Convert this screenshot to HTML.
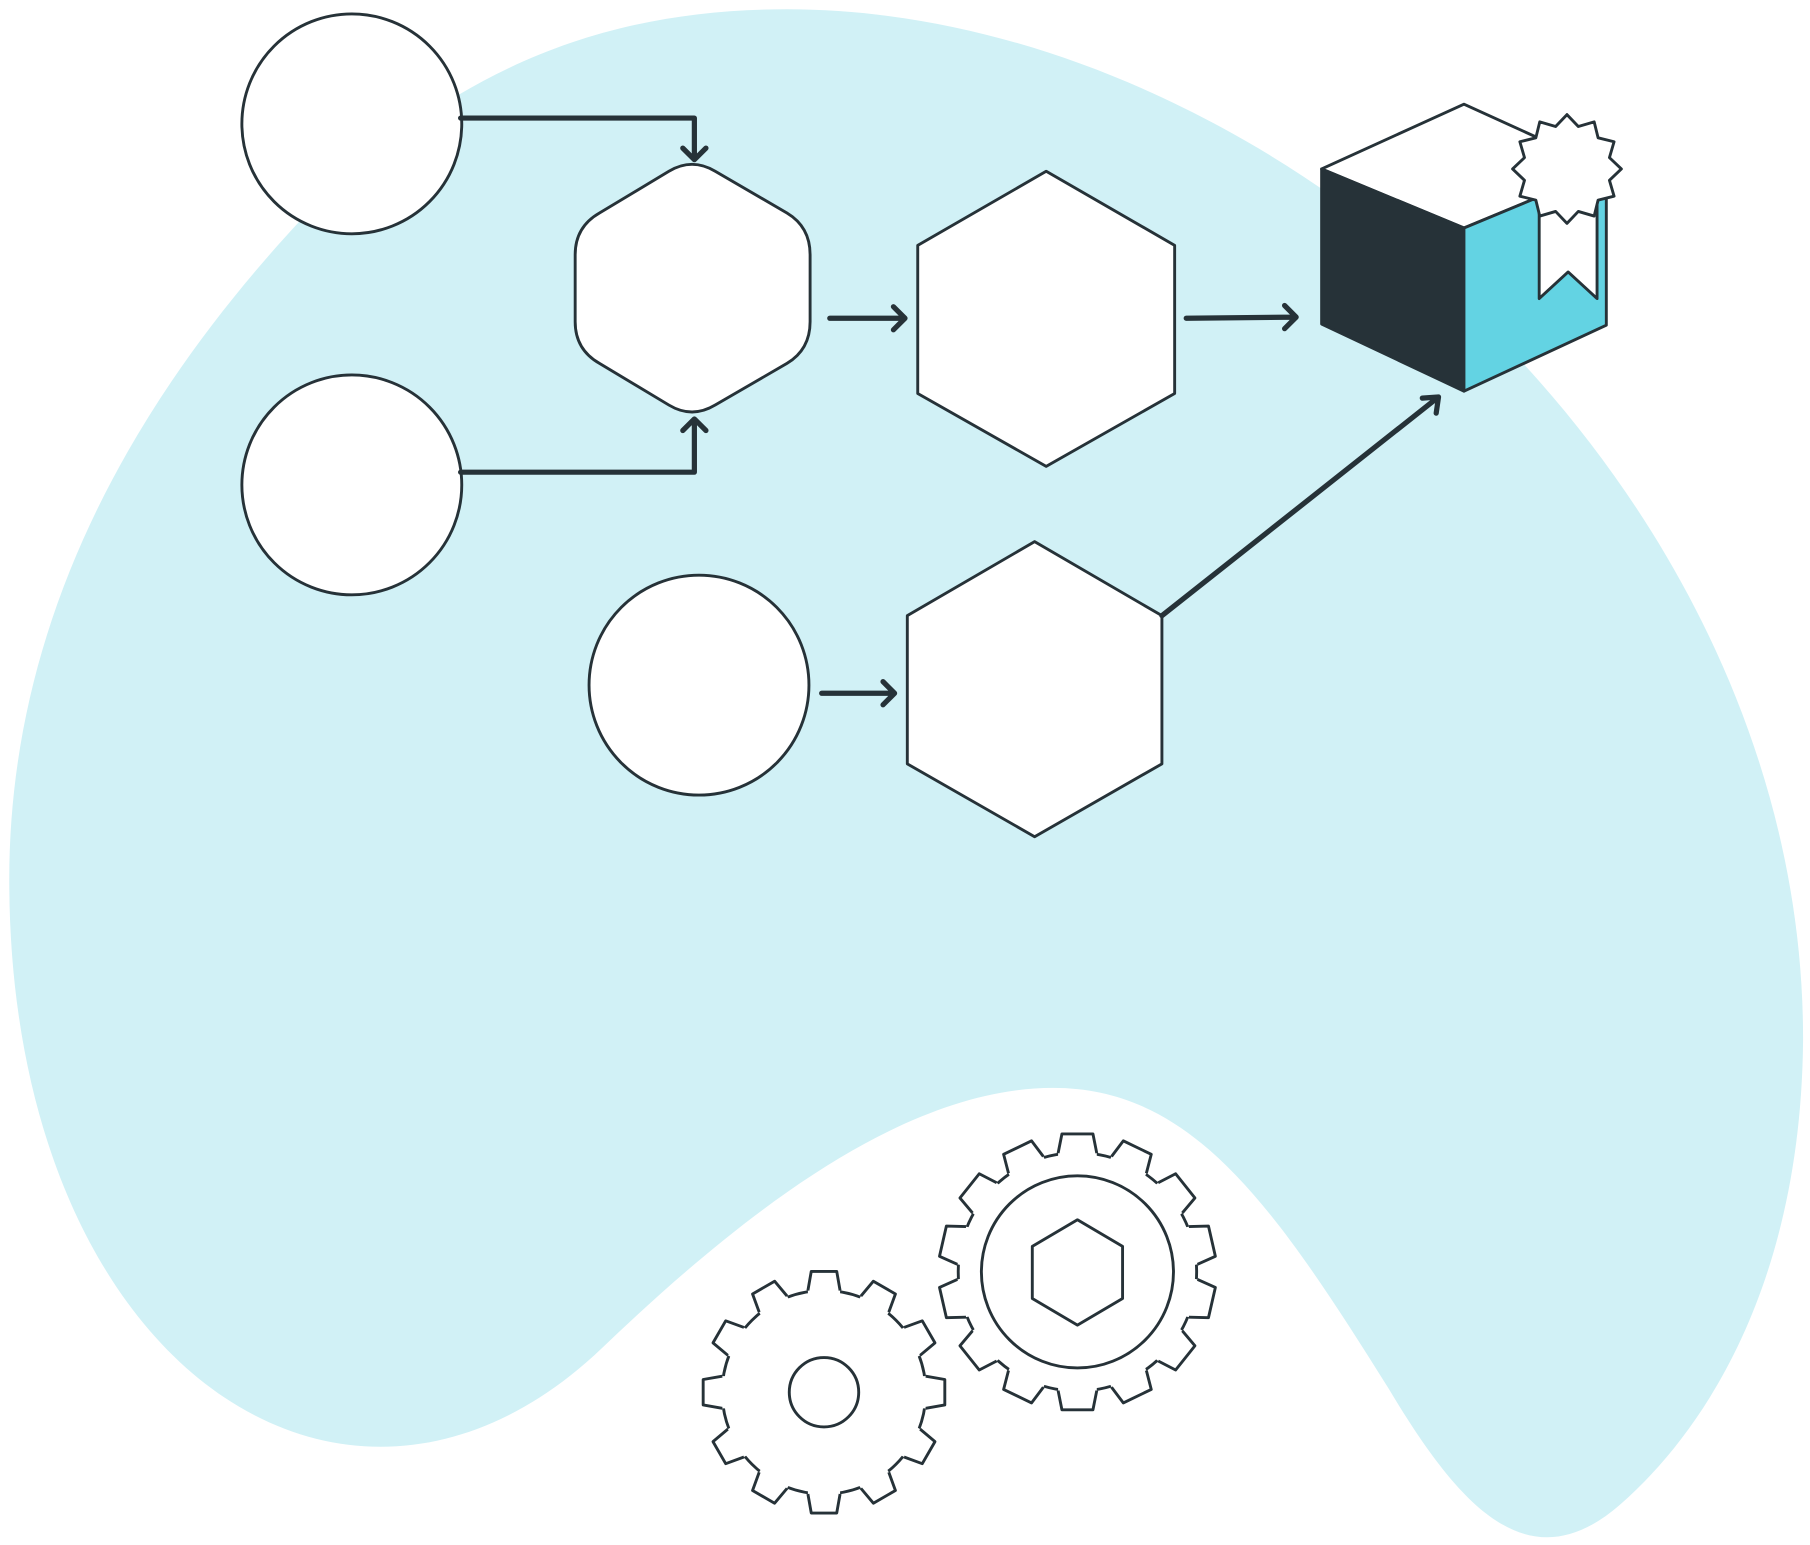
<!DOCTYPE html>
<html><head><meta charset="utf-8"><style>html,body{margin:0;padding:0;background:#fff}svg{display:block}</style></head>
<body>
<svg width="1810" height="1545" viewBox="0 0 1564 1335" preserveAspectRatio="none" xmlns="http://www.w3.org/2000/svg" xmlns:xlink="http://www.w3.org/1999/xlink">
<defs>
<g id="t1"><polygon points="-13.9,-87.9 -11,-104.4 11,-104.4 13.9,-87.9 13.9,-84 -13.9,-84" fill="#fff" stroke="none"/><polyline points="-13.9,-87.9 -11,-104.4 11,-104.4 13.9,-87.9" fill="none"/></g>
<g id="t2"><polygon points="-16.7,-102.6 -13.4,-119.2 13.4,-119.2 16.7,-102.6 16.7,-99 -16.7,-99" fill="#fff" stroke="none"/><polyline points="-16.7,-102.6 -13.4,-119.2 13.4,-119.2 16.7,-102.6" fill="none"/></g>
</defs>
<path d="M680 8 C1100 8 1560 420 1558 900 C1556 1100 1480 1230 1400 1300 C1320 1370 1260 1300 1200 1200 C1100 1040 1030 940 910 940 C780 940 640 1050 520 1165 C300 1375 8 1180 8 760 C8 520 130 330 260 190 C390 60 520 8 680 8 Z" fill="#d1f1f6"/>
<g fill="#fff" stroke="#263238" stroke-width="2.5" stroke-linejoin="round">
<circle cx="304" cy="107" r="95"/>
<circle cx="304" cy="419" r="95"/>
<circle cx="604" cy="592" r="95"/>
<path d="M578 148 Q598 136 618 148 L680 184 Q700 196 700 220 L700 278 Q700 302 680 314 L618 350 Q598 362 578 350 L518 314 Q497 302 497 278 L497 220 Q497 196 518 184 Z"/>
<polygon points="904,148 1015,212 1015,340 904,403 793,340 793,212"/>
<polygon points="894,468 1004,532 1004,660 894,723 784,660 784,532"/>
<polygon points="1142,146 1265,90 1388,146 1265,197"/>
<polygon points="1142,146 1265,197 1265,338 1142,280" fill="#263238"/>
<polygon points="1265,197 1388,146 1388,281 1265,338" fill="#63d3e3"/>
<polygon points="1330,170 1380,170 1380,258 1355,235 1330,258"/>
<polygon points="1354,99 1363.8,109.3 1377.5,105.3 1380.9,119.1 1394.7,122.5 1390.7,136.2 1401,146 1390.7,155.8 1394.7,169.5 1380.9,172.9 1377.5,186.7 1363.8,182.7 1354,193 1344.2,182.7 1330.5,186.7 1327.1,172.9 1313.3,169.5 1317.3,155.8 1307,146 1317.3,136.2 1313.3,122.5 1327.1,119.1 1330.5,105.3 1344.2,109.3"/>
<g transform="translate(712 1203)">
<circle r="88"/>
<use xlink:href="#t1"/><use xlink:href="#t1" transform="rotate(30)"/><use xlink:href="#t1" transform="rotate(60)"/><use xlink:href="#t1" transform="rotate(90)"/><use xlink:href="#t1" transform="rotate(120)"/><use xlink:href="#t1" transform="rotate(150)"/><use xlink:href="#t1" transform="rotate(180)"/><use xlink:href="#t1" transform="rotate(210)"/><use xlink:href="#t1" transform="rotate(240)"/><use xlink:href="#t1" transform="rotate(270)"/><use xlink:href="#t1" transform="rotate(300)"/><use xlink:href="#t1" transform="rotate(330)"/>
<circle r="30"/>
</g>
<g transform="translate(931 1099)">
<circle r="103"/>
<use xlink:href="#t2"/><use xlink:href="#t2" transform="rotate(25.714)"/><use xlink:href="#t2" transform="rotate(51.429)"/><use xlink:href="#t2" transform="rotate(77.143)"/><use xlink:href="#t2" transform="rotate(102.857)"/><use xlink:href="#t2" transform="rotate(128.571)"/><use xlink:href="#t2" transform="rotate(154.286)"/><use xlink:href="#t2" transform="rotate(180)"/><use xlink:href="#t2" transform="rotate(205.714)"/><use xlink:href="#t2" transform="rotate(231.429)"/><use xlink:href="#t2" transform="rotate(257.143)"/><use xlink:href="#t2" transform="rotate(282.857)"/><use xlink:href="#t2" transform="rotate(308.571)"/><use xlink:href="#t2" transform="rotate(334.286)"/>
<circle r="83"/>
<polygon points="0,-45 39,-22 39,23 0,46 -39,23 -39,-22"/>
</g>
</g>
<g fill="none" stroke="#263238" stroke-width="4.5" stroke-linecap="round" stroke-linejoin="round">
<path d="M398 102 H600 V138 M590 128 L600 138 L610 128"/>
<path d="M398 408 H600 V362 M590 372 L600 362 L610 372"/>
<path d="M717 275 H782 M772 265 L782 275 L772 285"/>
<path d="M1025 275 L1120 274 M1110 264 L1120 274 L1110 284"/>
<path d="M710 599 H773 M763 589 L773 599 L763 609"/>
<path d="M1004 532 L1243 343 M1229 344 L1243 343 L1241 357"/>
</g>
</svg>
</body></html>
